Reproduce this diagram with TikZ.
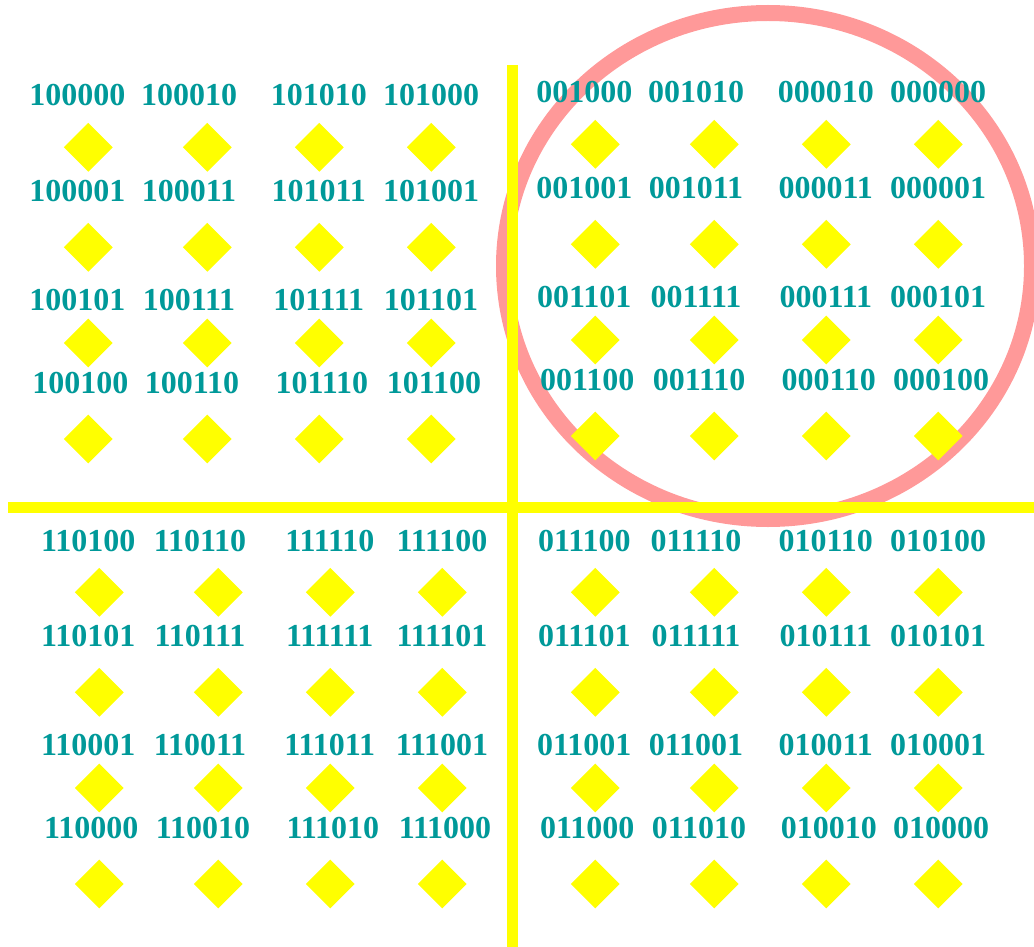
\documentclass[tikz,border=0pt]{standalone}
\usepackage{fontspec}
\setmainfont{Liberation Serif}
\usetikzlibrary{shapes.geometric}
\definecolor{codeteal}{RGB}{0,153,153}
\definecolor{ringpink}{RGB}{255,153,153}
\definecolor{lineyellow}{RGB}{255,255,0}
\newcommand\setcodes[3]{%
  \foreach \t [count=\c] in {#3}{\expandafter\xdef\csname code@#1@#2@\c\endcsname{\t}}}
\setcodes{tl}{1}{100000,100010,101010,101000}
\setcodes{tl}{2}{100001,100011,101011,101001}
\setcodes{tl}{3}{100101,100111,101111,101101}
\setcodes{tl}{4}{100100,100110,101110,101100}
\setcodes{tr}{1}{001000,001010,000010,000000}
\setcodes{tr}{2}{001001,001011,000011,000001}
\setcodes{tr}{3}{001101,001111,000111,000101}
\setcodes{tr}{4}{001100,001110,000110,000100}
\setcodes{bl}{1}{110100,110110,111110,111100}
\setcodes{bl}{2}{110101,110111,111111,111101}
\setcodes{bl}{3}{110001,110011,111011,111001}
\setcodes{bl}{4}{110000,110010,111010,111000}
\setcodes{br}{1}{011100,011110,010110,010100}
\setcodes{br}{2}{011101,011111,010111,010101}
\setcodes{br}{3}{011001,011001,010011,010001}
\setcodes{br}{4}{011000,011010,010010,010000}
\begin{document}
\begin{tikzpicture}[x=1pt,y=-1pt,
  cell/.style={diamond,fill=lineyellow,inner sep=0pt,minimum size=49pt,aspect=1},
  code/.style={anchor=base,inner sep=0pt,text=codeteal,font=\fontsize{32}{38}\selectfont\bfseries},
  axis/.style={draw=lineyellow,line width=11pt},
  ring/.style={draw=ringpink,line width=16pt}]
\useasboundingbox (0,0) rectangle (1034,947);
% ring
\draw[ring] (768,266) ellipse [x radius=264, y radius=253];
% axes
\coordinate (vtop) at (512.2,65);
\coordinate (vbot) at (512.2,947);
\coordinate (hleft) at (8,507.5);
\coordinate (hright) at (1034,507.5);
\draw[axis] (hleft) -- (hright);
\draw[axis] (vtop) -- (vbot);
% cells
\foreach \q/\dx/\dy in {tl/-11/-445,tr/496/-448,bl/0/0,br/496/0}{
  \foreach \r/\ry/\rb/\rs in {1/592.3/551/0,2/692.3/646/0,3/788/755/0,4/884/838/3}{
    \foreach \c/\cx/\lo in {1/99.3/-11,2/218.3/-18.3,3/330.3/-0.5,4/442.3/-0.3}{
      \node[cell] (d-\q-\r-\c) at (\cx+\dx,\ry+\dy) {};
      \node[code] (l-\q-\r-\c) at (\cx+\dx+\lo+\rs,\rb+\dy) {\csname code@\q@\r@\c\endcsname};
    }
  }
}
\end{tikzpicture}
\end{document}
